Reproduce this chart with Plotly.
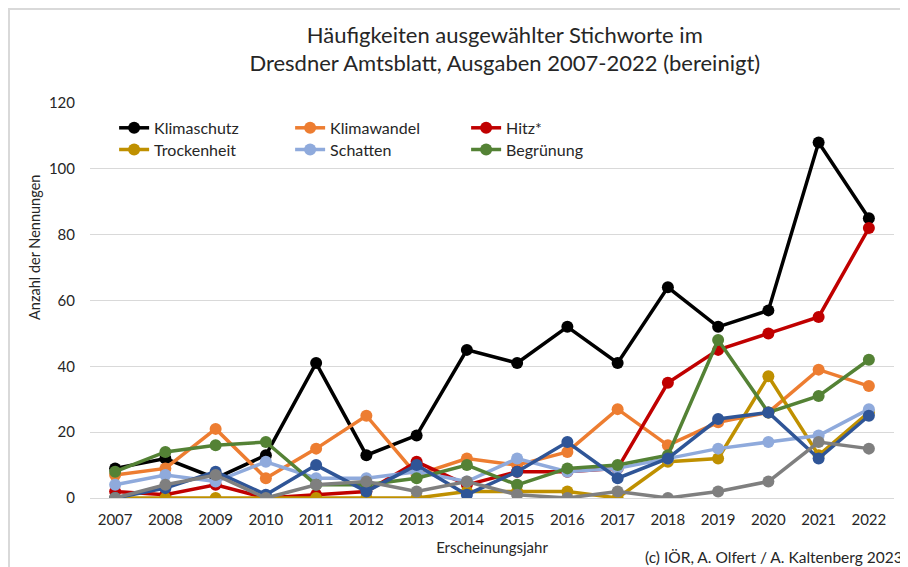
import plotly.graph_objects as go

years = list(range(2007, 2023))

klimaschutz = [9, 12, 6, 13, 41, 13, 19, 45, 41, 52, 41, 64, 52, 57, 108, 85]
klimawandel = [7, 9, 21, 6, 15, 25, 7, 12, 10, 14, 27, 16, 23, 26, 39, 34]
hitz = [2, 1, 4, 0, 1, 2, 11, 4, 8, 8, 9, 35, 45, 50, 55, 82]
trockenheit = [0, 0, 0, 0, 0, 0, 0, 2, 2, 2, 0, 11, 12, 37, 13, 26]
schatten = [4, 7, 5, 11, 6, 6, 8, 5, 12, 8, 9, 12, 15, 17, 19, 27]
begruenung = [8, 14, 16, 17, 4, 4, 6, 10, 4, 9, 10, 13, 48, 26, 31, 42]
blau_ohne_legende = [0, 3, 8, 1, 10, 2, 10, 1, 8, 17, 6, 12, 24, 26, 12, 25]
grau_ohne_legende = [0, 4, 7, 0, 4, 5, 2, 5, 1, 0, 2, 0, 2, 5, 17, 15]

series = [
    ("Klimaschutz", klimaschutz, "#000000", "legend", True),
    ("Klimawandel", klimawandel, "#ED7D31", "legend", True),
    ("Hitz*", hitz, "#C00000", "legend", True),
    ("Trockenheit", trockenheit, "#BF9000", "legend2", True),
    ("Schatten", schatten, "#8FAADC", "legend2", True),
    ("Begrünung", begruenung, "#548235", "legend2", True),
    ("Serie 7", blau_ohne_legende, "#2F5597", "legend", False),
    ("Serie 8", grau_ohne_legende, "#7F7F7F", "legend", False),
]

fig = go.Figure()
for name, vals, color, leg, show in series:
    fig.add_trace(go.Scatter(
        x=years, y=vals, name=name, mode="lines+markers",
        line=dict(color=color, width=3.5),
        marker=dict(color=color, size=12),
        legend=leg, showlegend=show,
    ))

font_family = "Lato, 'Open Sans', sans-serif"
fig.update_layout(
    width=900, height=559,
    margin=dict(l=82, r=14, t=95, b=69),
    paper_bgcolor="white", plot_bgcolor="white",
    font=dict(family=font_family, color="#262626", size=15),
    title=dict(
        text="Häufigkeiten ausgewählter Stichworte im<br>Dresdner Amtsblatt, Ausgaben 2007-2022 (bereinigt)",
        x=0.552, xanchor="center", y=0.938, yanchor="top",
        font=dict(size=22, color="#262626", family=font_family),
    ),
    xaxis=dict(
        range=[2006.5, 2022.5], tickmode="array", tickvals=years,
        ticktext=[str(y) for y in years], showgrid=False, zeroline=False,
        showline=False, ticks="", tickfont=dict(size=15), ticklabelstandoff=11,
        title=dict(text="Erscheinungsjahr", font=dict(size=15), standoff=15),
    ),
    yaxis=dict(
        range=[0, 120], tickvals=[0, 20, 40, 60, 80, 100, 120],
        showgrid=True, gridcolor="#D9D9D9", gridwidth=1, zeroline=True,
        zerolinecolor="#D9D9D9", zerolinewidth=1, ticks="", tickfont=dict(size=15),
        ticklabelstandoff=14,
    ),
    legend=dict(
        orientation="h", x=0.03, y=0.98, xanchor="left", yanchor="top",
        entrywidth=131, entrywidthmode="pixels", font=dict(size=16),
        bgcolor="rgba(0,0,0,0)", traceorder="normal",
    ),
    legend2=dict(
        orientation="h", x=0.03, y=0.925, xanchor="left", yanchor="top",
        entrywidth=131, entrywidthmode="pixels", font=dict(size=16),
        bgcolor="rgba(0,0,0,0)", traceorder="normal",
    ),
    showlegend=True,
    annotations=[
        dict(
            text="(c) IÖR, A. Olfert / A. Kaltenberg 2023", xref="paper", yref="paper",
            x=1.0137, y=-0.149, xanchor="right", yanchor="middle", showarrow=False,
            font=dict(size=15.5, color="#262626"),
        ),
        dict(
            text="Anzahl der Nennungen", xref="paper", yref="paper",
            x=-0.0684, y=0.633, xanchor="center", yanchor="middle", showarrow=False,
            textangle=-90, font=dict(size=14.5, color="#262626"),
        ),
    ],
    shapes=[dict(
        type="rect", xref="paper", yref="paper", x0=-81 / 804, x1=1.2,
        y0=-0.3, y1=1 + 94 / 395,
        line=dict(color="#D9D9D9", width=2), fillcolor="rgba(0,0,0,0)", layer="below",
    )],
)

fig.write_html("out.html")
